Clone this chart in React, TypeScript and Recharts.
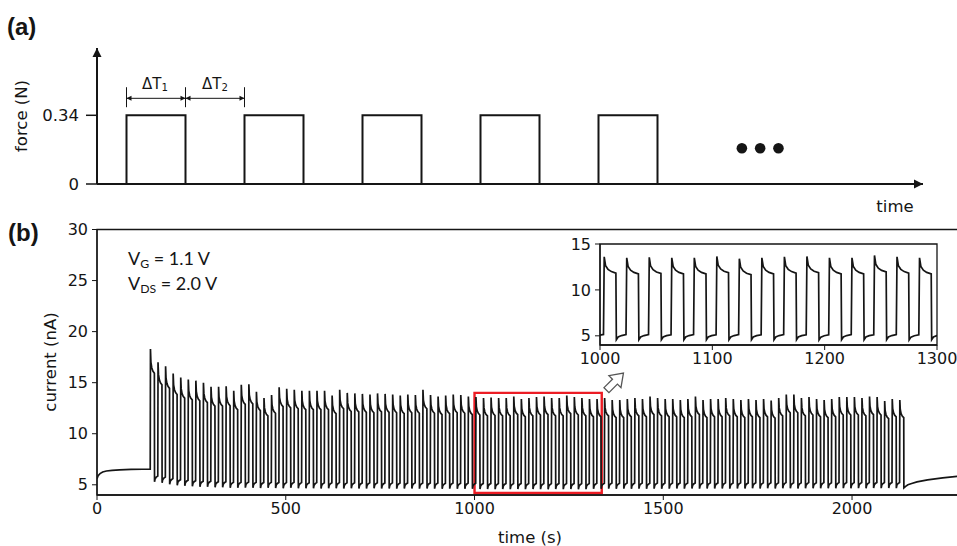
import React from 'react'
import {
  ComposedChart,
  LineChart,
  Line,
  Scatter,
  XAxis,
  YAxis,
  ReferenceArea,
  ReferenceDot,
  ReferenceLine,
} from 'recharts'

// ---------- (a) force schematic ----------
const pulseStarts = [0.5, 2.5, 4.5, 6.5, 8.5]
const pulseWidth = 1 // ΔT1
const pulseForce = 0.34
const forceTicks = [0, 0.34]
const ellipsisTimes = [10.93, 11.24, 11.55]
const ellipsisForce = 0.177

// ---------- (b) current trace ----------
const firstPulseTime = 141
const pulsePeriod = 20.05
const onTime = 11

// peak current of every pulse (nA)
const peakCurrent = [
  18.3, 17.0, 16.6, 15.9, 15.5, 15.3, 15.2, 15.0, 14.6, 14.6,
  14.65, 14.2, 14.8, 14.85, 14.1, 13.5, 13.8, 14.55, 14.4, 14.3,
  14.2, 14.2, 14.2, 14.2, 13.75, 14.3, 14.0, 13.95, 13.9, 13.85,
  13.95, 13.9, 13.85, 13.75, 13.85, 13.8, 14.3, 13.8, 13.65, 13.75,
  13.85, 13.8, 13.65, 13.6, 13.5, 13.55, 13.5, 13.5, 13.65, 13.4,
  13.5, 13.6, 13.65, 13.5, 13.5, 13.75, 13.6, 13.5, 13.4, 13.4,
  13.5, 13.3, 13.3, 13.4, 13.5, 13.4, 13.65, 13.5, 13.4, 13.4,
  13.3, 13.4, 13.65, 13.3, 13.4, 13.4, 13.5, 13.4, 13.3, 13.4,
  13.3, 13.4, 13.25, 13.5, 13.85, 13.85, 13.5, 13.6, 13.4, 13.3,
  13.4, 13.6, 13.6, 13.6, 13.5, 13.65, 13.6, 13.2, 13.4, 13.3,
]

// lowest current right after every release (nA)
const troughCurrent = [
  5.3, 5.2, 5.05, 4.95, 4.9, 4.85, 4.8, 4.8, 4.75, 4.75,
  4.7, 4.7, 4.72, 4.7, 4.68, 4.7, 4.68, 4.66, 4.7, 4.66,
  4.65, 4.66, 4.64, 4.65, 4.66, 4.64, 4.65, 4.63, 4.64, 4.65,
  4.63, 4.64, 4.62, 4.63, 4.64, 4.62, 4.63, 4.62, 4.6, 4.62,
  4.6, 4.61, 4.6, 4.58, 4.58, 4.57, 4.58, 4.57, 4.58, 4.57,
  4.58, 4.57, 4.56, 4.58, 4.57, 4.58, 4.56, 4.57, 4.6, 4.6,
  4.62, 4.6, 4.62, 4.61, 4.62, 4.6, 4.62, 4.61, 4.62, 4.63,
  4.62, 4.63, 4.62, 4.64, 4.63, 4.64, 4.62, 4.64, 4.63, 4.65,
  4.64, 4.65, 4.64, 4.66, 4.65, 4.64, 4.66, 4.65, 4.66, 4.65,
  4.66, 4.67, 4.66, 4.67, 4.66, 4.68, 4.67, 4.68, 4.67, 4.7,
]

// shape of one pulse (seconds after the press / release)
const onShapeT = [0.6, 1.8, 4, 7, onTime]
const onShapeRatio = [1, 0.93, 0.9, 0.882, 0.87]
const offShapeT = [0.4, 2, 5, 9]
const offShapeRise = [0, 0.3, 0.45, 0.55]

// current before the first pulse and after the last one
const restTime = [0, 3, 8, 15, 25, 40, 60, 90, 120, 141]
const restCurrent = [5.6, 5.9, 6.1, 6.25, 6.35, 6.42, 6.46, 6.5, 6.52, 6.53]
const recoveryTime = [2142, 2148, 2158, 2172, 2200, 2240, 2300]
const recoveryCurrent = [4.85, 5.0, 5.12, 5.28, 5.48, 5.68, 5.9]

const mainXTicks = [0, 500, 1000, 1500, 2000]
const mainYTicks = [5, 10, 15, 20, 25, 30]
const insetXTicks = [1000, 1100, 1200, 1300]
const insetYTicks = [5, 10, 15]

// zoomed window marked in red
const zoomBox = { x1: 1000, x2: 1337, y1: 4.2, y2: 14.0 }

// ---------- build series ----------
const pulseData: { t: number; f: number }[] = [{ t: 0, f: 0 }]
pulseStarts.forEach((s) => {
  pulseData.push({ t: s, f: pulseForce })
  pulseData.push({ t: s + pulseWidth, f: 0 })
})
const ellipsisData = ellipsisTimes.map((t) => ({ t, f: ellipsisForce }))

const trace: { t: number; i: number }[] = []
restTime.forEach((t, k) => trace.push({ t, i: restCurrent[k] }))
peakCurrent.forEach((peak, k) => {
  const t0 = firstPulseTime + k * pulsePeriod
  onShapeT.forEach((dt, j) => trace.push({ t: t0 + dt, i: peak * onShapeRatio[j] }))
  const tOff = t0 + onTime
  const n = k === peakCurrent.length - 1 ? 1 : offShapeT.length
  for (let j = 0; j < n; j++) {
    trace.push({ t: tOff + offShapeT[j], i: troughCurrent[k] + offShapeRise[j] })
  }
})
recoveryTime.forEach((t, k) => trace.push({ t, i: recoveryCurrent[k] }))

const insetTrace = trace.filter((p) => p.t > 985 && p.t < 1315)

const INK = '#151515'
const FONT = '"DejaVu Sans", sans-serif'
const tickStyle = { fill: INK, fontSize: 16, fontFamily: FONT }

function Txt({ x, y, anchor = 'start', size = 16, family = FONT, weight = 400, rotate = 0, children }: any) {
  const tx = anchor === 'middle' ? '-50%' : anchor === 'end' ? '-100%' : '0'
  return (
    <div
      style={{
        position: 'absolute',
        left: x,
        top: y,
        transform: `translate(${tx}, -50%) rotate(${rotate}deg)`,
        whiteSpace: 'nowrap',
        fontSize: size,
        fontFamily: family,
        fontWeight: weight,
        lineHeight: 1,
        color: INK,
      }}
    >
      {children}
    </div>
  )
}

const subStyle = { fontSize: '0.68em', verticalAlign: '-0.25em' }

// small filled arrowheads
const headRight = (p: any) => (
  <polygon points={`${p.cx},${p.cy} ${p.cx - 9},${p.cy - 4.5} ${p.cx - 9},${p.cy + 4.5}`} fill={INK} />
)
const headUp = (p: any) => (
  <polygon points={`${p.cx},${p.cy} ${p.cx - 4.5},${p.cy + 9} ${p.cx + 4.5},${p.cy + 9}`} fill={INK} />
)
const tinyLeft = (p: any) => (
  <polygon points={`${p.cx},${p.cy} ${p.cx + 5},${p.cy - 2.5} ${p.cx + 5},${p.cy + 2.5}`} fill={INK} />
)
const tinyRight = (p: any) => (
  <polygon points={`${p.cx},${p.cy} ${p.cx - 5},${p.cy - 2.5} ${p.cx - 5},${p.cy + 2.5}`} fill={INK} />
)

// hollow block arrow pointing from the red box to the inset
const blockArrow = (p: any) => {
  const shape = [
    [-12, -3.5], [0, -3.5], [0, -8.5], [12, 0], [0, 8.5], [0, 3.5], [-12, 3.5],
  ]
  const c = Math.SQRT1_2
  const pts = shape
    .map(([a, b]) => `${p.cx + a * c + b * c},${p.cy - a * c + b * c}`)
    .join(' ')
  return <polygon points={pts} fill="#fff" stroke="#555" strokeWidth={1.3} />
}

const dimY = 0.424
const extLow = 0.38
const extHigh = 0.479

export default function App() {
  return (
    <div
      style={{
        position: 'fixed',
        left: 0,
        top: 0,
        width: 957,
        height: 546,
        overflow: 'hidden',
        background: '#fff',
      }}
    >
      {/* (a) force schematic */}
      <div style={{ position: 'absolute', left: 0, top: 0 }}>
        <ComposedChart
          width={960}
          height={215}
          data={pulseData}
          margin={{ top: 48, right: 37, bottom: 26, left: 37 }}
        >
          <XAxis
            type="number"
            dataKey="t"
            domain={[0, 14]}
            allowDataOverflow
            tick={false}
            tickLine={false}
            height={5}
            axisLine={{ stroke: INK, strokeWidth: 2 }}
          />
          <YAxis
            type="number"
            domain={[0, 0.673]}
            allowDataOverflow
            ticks={forceTicks}
            width={60}
            tickSize={11}
            tickMargin={7}
            tick={{ ...tickStyle, fontSize: 16.5 }}
            tickFormatter={(v: number) => (v === 0 ? '0' : v.toFixed(2))}
            tickLine={{ stroke: INK, strokeWidth: 1.5 }}
            axisLine={{ stroke: INK, strokeWidth: 2 }}
          />
          <Line
            type="stepAfter"
            dataKey="f"
            stroke={INK}
            strokeWidth={2}
            dot={false}
            isAnimationActive={false}
          />
          <Scatter
            data={ellipsisData}
            dataKey="f"
            fill={INK}
            isAnimationActive={false}
            shape={(p: any) => <circle cx={p.cx} cy={p.cy} r={5.3} fill={INK} />}
          />
          {/* ΔT dimension lines */}
          <ReferenceLine
            segment={[{ x: pulseStarts[0], y: dimY }, { x: pulseStarts[1], y: dimY }]}
            stroke={INK}
            strokeWidth={1}
          />
          {[pulseStarts[0], pulseStarts[0] + pulseWidth, pulseStarts[1]].map((x) => (
            <ReferenceLine
              key={x}
              segment={[{ x, y: extLow }, { x, y: extHigh }]}
              stroke={INK}
              strokeWidth={1}
            />
          ))}
          <ReferenceDot x={pulseStarts[0]} y={dimY} shape={tinyLeft} />
          <ReferenceDot x={pulseStarts[0] + pulseWidth} y={dimY} shape={tinyRight} />
          <ReferenceDot x={pulseStarts[0] + pulseWidth} y={dimY} shape={tinyLeft} />
          <ReferenceDot x={pulseStarts[1]} y={dimY} shape={tinyRight} />
          {/* axis arrowheads */}
          <ReferenceDot x={14} y={0} shape={headRight} ifOverflow="visible" />
          <ReferenceDot x={0} y={0.673} shape={headUp} ifOverflow="visible" />
        </ComposedChart>
      </div>

      {/* (b) current trace */}
      <div style={{ position: 'absolute', left: 0, top: 215 }}>
        <LineChart
          width={980}
          height={331}
          data={trace}
          margin={{ top: 14.5, right: 14.7, bottom: 6, left: 37 }}
        >
          <XAxis
            type="number"
            dataKey="t"
            domain={[0, 2300]}
            allowDataOverflow
            ticks={mainXTicks}
            height={45}
            tickSize={5}
            tickMargin={3}
            tick={tickStyle}
            tickLine={{ stroke: INK }}
            axisLine={{ stroke: INK, strokeWidth: 1.3 }}
          />
          <YAxis
            type="number"
            domain={[4, 30]}
            allowDataOverflow
            ticks={mainYTicks}
            width={60}
            tickSize={5}
            tickMargin={4}
            tick={tickStyle}
            tickLine={{ stroke: INK }}
            axisLine={{ stroke: INK, strokeWidth: 1.3 }}
          />
          <ReferenceArea x1={0} x2={2300} y1={4} y2={30} fill="none" stroke={INK} strokeWidth={1.3} />
          <Line
            type="linear"
            dataKey="i"
            stroke={INK}
            strokeWidth={1.7}
            dot={false}
            isAnimationActive={false}
          />
          <ReferenceArea
            x1={zoomBox.x1}
            x2={zoomBox.x2}
            y1={zoomBox.y1}
            y2={zoomBox.y2}
            fill="none"
            stroke="#ec1c24"
            strokeWidth={2.4}
          />
          <ReferenceDot x={1372} y={15.1} shape={blockArrow} ifOverflow="visible" />
        </LineChart>
      </div>

      {/* inset: 1000–1300 s */}
      <div style={{ position: 'absolute', left: 540, top: 230 }}>
        <LineChart
          width={420}
          height={145}
          data={insetTrace}
          margin={{ top: 14, right: 23, bottom: 4, left: 20 }}
        >
          <XAxis
            type="number"
            dataKey="t"
            domain={[1000, 1300]}
            allowDataOverflow
            ticks={insetXTicks}
            height={26}
            tickSize={5}
            tickMargin={3}
            tick={tickStyle}
            tickLine={{ stroke: INK }}
            axisLine={{ stroke: INK, strokeWidth: 1.3 }}
          />
          <YAxis
            type="number"
            domain={[4, 15]}
            allowDataOverflow
            ticks={insetYTicks}
            width={40}
            tickSize={5}
            tickMargin={4}
            tick={tickStyle}
            tickLine={{ stroke: INK }}
            axisLine={{ stroke: INK, strokeWidth: 1.3 }}
          />
          <ReferenceArea x1={1000} x2={1300} y1={4} y2={15} fill="none" stroke={INK} strokeWidth={1.3} />
          <Line
            type="linear"
            dataKey="i"
            stroke={INK}
            strokeWidth={1.7}
            dot={false}
            isAnimationActive={false}
          />
        </LineChart>
      </div>

      {/* text */}
      <Txt x={7} y={27} size={24} weight={700} family='"Liberation Sans", Arial, sans-serif'>(a)</Txt>
      <Txt x={8} y={233} size={24} weight={700} family='"Liberation Sans", Arial, sans-serif'>(b)</Txt>
      <Txt x={22} y={116} anchor="middle" rotate={-90} size={16.5}>force (N)</Txt>
      <Txt x={895} y={207} anchor="middle" size={16.5}>time</Txt>
      <Txt x={155} y={85} anchor="middle" size={15}>
        ΔT<span style={subStyle}>1</span>
      </Txt>
      <Txt x={215} y={85} anchor="middle" size={15}>
        ΔT<span style={subStyle}>2</span>
      </Txt>
      <Txt x={128} y={260} size={18} family="Lato, sans-serif">
        V<span style={subStyle}>G</span> = 1.1 V
      </Txt>
      <Txt x={128} y={285} size={18} family="Lato, sans-serif">
        V<span style={subStyle}>DS</span> = 2.0 V
      </Txt>
      <Txt x={51} y={362} anchor="middle" rotate={-90} size={16.5}>current (nA)</Txt>
      <Txt x={530} y={538} anchor="middle" size={16.5}>time (s)</Txt>
    </div>
  )
}
